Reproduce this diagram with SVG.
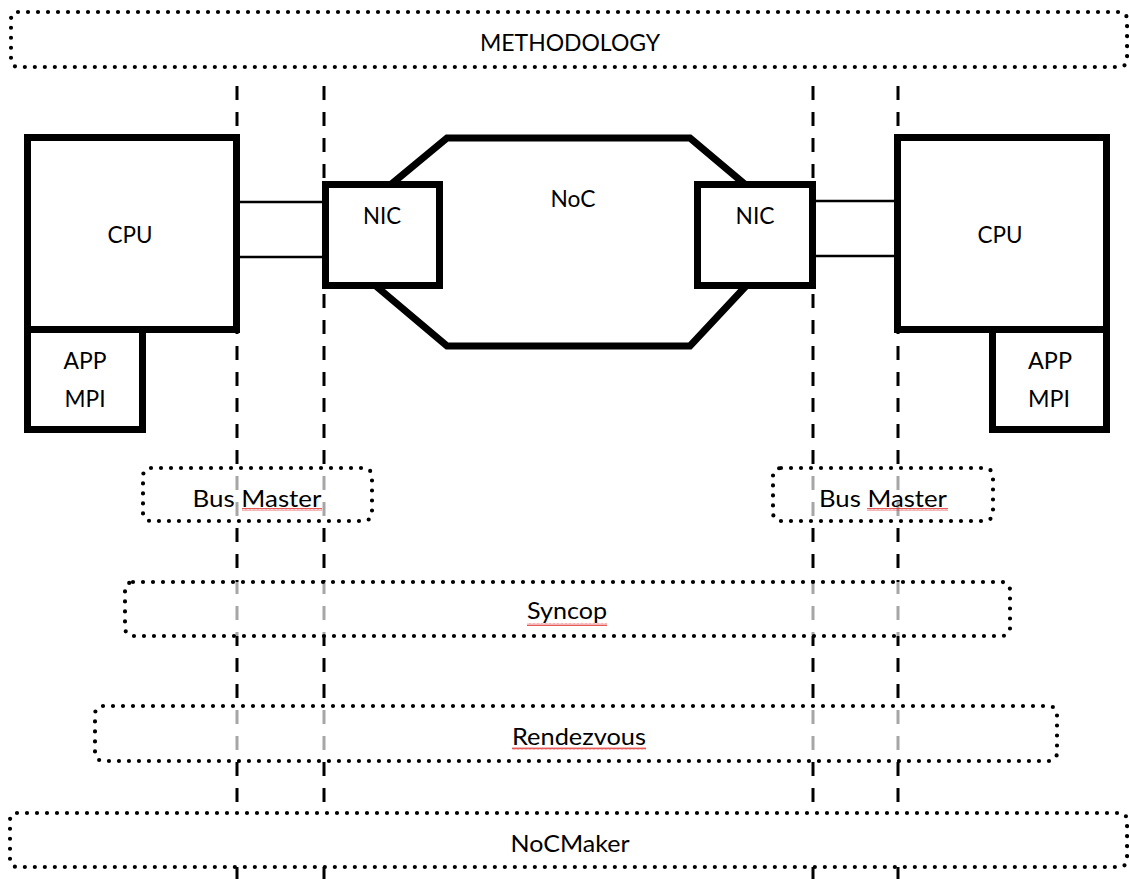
<svg xmlns="http://www.w3.org/2000/svg" width="1129" height="879" viewBox="0 0 1129 879">
  <style>
    .lbl { font-family: Lato, "Liberation Sans", Arial, sans-serif; font-size: 24px; fill: #000; text-anchor: middle; }
    .solid { fill: #fff; stroke: #000; stroke-width: 7; }
    .dots { stroke: #000; stroke-width: 4.2; stroke-dasharray: 0 10; stroke-linecap: round; }
    .veil { fill: #fff; fill-opacity: 0.65; }
    .opaque { fill: #fff; }
    .sep { stroke: #000; stroke-width: 3; stroke-dasharray: 14 12; fill: none; }
    .wire { stroke: #000; stroke-width: 2.5; fill: none; }
  </style>
  <defs>
    <pattern id="squiggle" x="0" y="0" width="4" height="3" patternUnits="userSpaceOnUse">
      <path d="M0 2.5 L1 0.5 L2 2.5 L3 0.5 L4 2.5" fill="none" stroke="#e03030" stroke-width="0.8"/>
    </pattern>
  </defs>
  <rect width="1129" height="879" fill="#fff"/>

  <!-- vertical interface boundaries -->
  <g id="separators">
    <line class="sep" x1="237" y1="86" x2="237" y2="879"/>
    <line class="sep" x1="324" y1="86" x2="324" y2="879"/>
    <line class="sep" x1="813" y1="86" x2="813" y2="879"/>
    <line class="sep" x1="898" y1="86" x2="898" y2="879"/>
  </g>

  <!-- top methodology banner -->
  <g id="methodology">
    <rect class="dots opaque" x="11" y="12" width="1116" height="55" rx="7"/>
    <text class="lbl" x="570" y="51" textLength="180" lengthAdjust="spacingAndGlyphs">METHODOLOGY</text>
  </g>

  <!-- network on chip -->
  <g id="noc">
    <polygon class="solid" points="447,138 690,138 760,197 760,271 690,346 447,346 358,271 371,201"/>
    <text class="lbl" x="573" y="207" textLength="45" lengthAdjust="spacingAndGlyphs">NoC</text>
  </g>

  <g id="connectors">
    <line class="wire" x1="240" y1="202" x2="323" y2="202"/>
    <line class="wire" x1="240" y1="257" x2="323" y2="257"/>
    <line class="wire" x1="816" y1="201" x2="895" y2="201"/>
    <line class="wire" x1="816" y1="256" x2="895" y2="256"/>
  </g>

  <g id="cpu-left">
    <rect class="solid" x="27.5" y="137.5" width="209" height="192"/>
    <text class="lbl" x="130" y="243" textLength="45" lengthAdjust="spacingAndGlyphs">CPU</text>
  </g>
  <g id="app-left">
    <rect class="solid" x="27.5" y="329.5" width="115" height="100"/>
    <text class="lbl" x="85" y="369" textLength="43" lengthAdjust="spacingAndGlyphs">APP</text>
    <text class="lbl" x="85" y="407" textLength="41" lengthAdjust="spacingAndGlyphs">MPI</text>
  </g>
  <g id="nic-left">
    <rect class="solid" x="325.5" y="184.5" width="114" height="101"/>
    <text class="lbl" x="382" y="224" textLength="38" lengthAdjust="spacingAndGlyphs">NIC</text>
  </g>

  <g id="nic-right">
    <rect class="solid" x="697.5" y="184.5" width="115" height="101"/>
    <text class="lbl" x="755" y="224" textLength="39" lengthAdjust="spacingAndGlyphs">NIC</text>
  </g>
  <g id="cpu-right">
    <rect class="solid" x="897.5" y="137.5" width="209" height="192"/>
    <text class="lbl" x="1000" y="243" textLength="45" lengthAdjust="spacingAndGlyphs">CPU</text>
  </g>
  <g id="app-right">
    <rect class="solid" x="992.5" y="329.5" width="114" height="100"/>
    <text class="lbl" x="1050" y="369" textLength="44" lengthAdjust="spacingAndGlyphs">APP</text>
    <text class="lbl" x="1049" y="407" textLength="42" lengthAdjust="spacingAndGlyphs">MPI</text>
  </g>

  <!-- software layers -->
  <g id="bus-master-left">
    <rect class="dots veil" x="143" y="468" width="229" height="53" rx="8"/>
    <text class="lbl" x="257" y="507" textLength="129" lengthAdjust="spacingAndGlyphs">Bus Master</text>
    <rect x="242" y="508" width="80" height="3" fill="url(#squiggle)"/>
  </g>
  <g id="bus-master-right">
    <rect class="dots veil" x="773" y="468" width="220" height="53" rx="8"/>
    <text class="lbl" x="883" y="507" textLength="128" lengthAdjust="spacingAndGlyphs">Bus Master</text>
    <rect x="867" y="508" width="81" height="3" fill="url(#squiggle)"/>
  </g>
  <g id="syncop">
    <rect class="dots veil" x="125" y="582" width="885" height="54" rx="8"/>
    <text class="lbl" x="567" y="619" textLength="80" lengthAdjust="spacingAndGlyphs">Syncop</text>
    <rect x="527" y="623" width="80" height="3" fill="url(#squiggle)"/>
  </g>
  <g id="rendezvous">
    <rect class="dots veil" x="95" y="706" width="962" height="55" rx="8"/>
    <text class="lbl" x="579" y="745" textLength="134" lengthAdjust="spacingAndGlyphs">Rendezvous</text>
    <rect x="512" y="747" width="134" height="3" fill="url(#squiggle)"/>
  </g>
  <g id="nocmaker">
    <rect class="dots opaque" x="10" y="813" width="1117" height="54" rx="7"/>
    <text class="lbl" x="570" y="852" textLength="119" lengthAdjust="spacingAndGlyphs">NoCMaker</text>
  </g>
</svg>
